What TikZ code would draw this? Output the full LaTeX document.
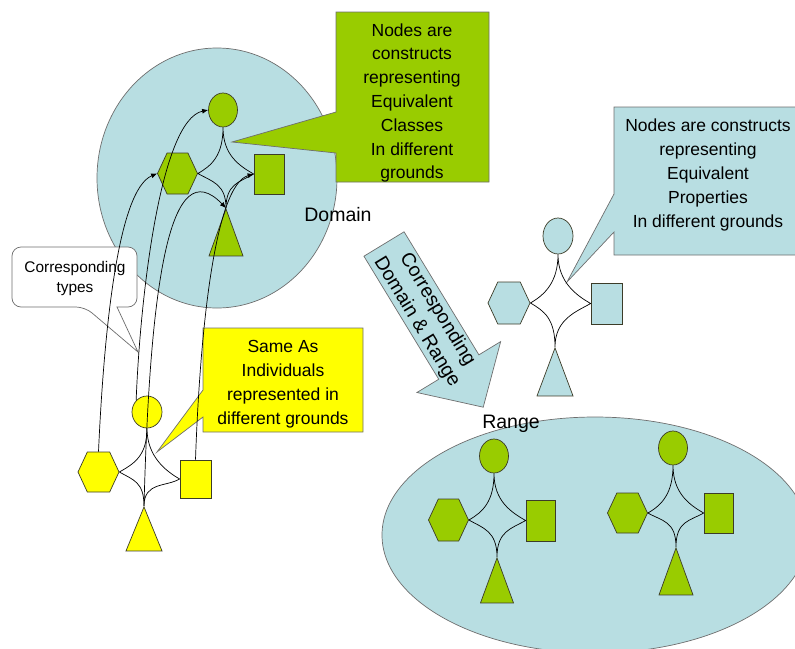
\documentclass[tikz,border=0pt]{standalone}
\usepackage{fontspec}
\setmainfont{Liberation Sans}
\usetikzlibrary{
    shapes.geometric,
    shapes.symbols,
    arrows.meta,
    positioning
}
\definecolor{paleblue}{RGB}{184,222,226}
\definecolor{leaf}{RGB}{153,204,0}
\definecolor{lemon}{RGB}{255,255,0}
\definecolor{rim}{RGB}{60,60,40}
\definecolor{edgegray}{RGB}{110,110,110}

\begin{document}
\begin{tikzpicture}[x=1pt, y=-1pt,
    circ/.style={ellipse, draw=rim, line width=0.7pt, inner sep=0pt, minimum width=29pt, minimum height=34pt},
    hexa/.style={signal, signal to=west and east, signal pointer angle=130, draw=rim, line width=0.7pt, inner sep=0pt, minimum width=40pt, minimum height=41pt},
    sq/.style={rectangle, draw=rim, line width=0.7pt, inner sep=0pt, minimum width=30pt, minimum height=40pt},
    tri/.style={isosceles triangle, isosceles triangle stretches, shape border rotate=90, draw=rim, line width=0.7pt, inner sep=0pt, anchor=apex, minimum width=34pt, minimum height=47pt},
    link/.style={line width=0.7pt},
    corr/.style={link, -{Latex[length=6pt, width=5pt]}},
    callout/.style={draw=edgegray, line width=0.7pt},
    say/.style={align=center, font=\fontsize{17.5}{23.8}\selectfont},
    tag/.style={font=\fontsize{19.5}{24}\selectfont}
]
\useasboundingbox (0,0) rectangle (795,648);

% domain and range areas
\draw[callout, fill=paleblue] (217,178) ellipse [x radius=120pt, y radius=130pt];
\draw[callout, fill=paleblue] (595,535) ellipse [x radius=213pt, y radius=118pt];

% call-outs
\draw[callout, fill=white, rounded corners=9pt] (117,307) -- (137,307) -- (137,247) -- (12,247) -- (12,307) -- (85,307) [sharp corners] -- (138,352) -- cycle;
\draw[callout, fill=leaf] (336,12) -- (489,12) -- (489,182) -- (336,182) -- (336,153) -- (232,142) -- (336,112) -- cycle;
\draw[callout, fill=paleblue] (614,107) -- (800,107) -- (800,255) -- (614,255) -- (614,232) -- (567,282) -- (614,194) -- cycle;
\draw[callout, fill=lemon] (203,328) -- (363,328) -- (363,432) -- (203,432) -- (203,417) -- (157,452) -- (203,390) -- cycle;

% big arrow
\begin{scope}[shift={(384,244)}, rotate=-58.7]
    \draw[callout, fill=paleblue] (0,-23.5) -- (144,-23.5) -- (144,-49) -- (191,0) -- (144,49) -- (144,23.5) -- (0,23.5) -- cycle;
\end{scope}

% domain classes
\begin{scope}[shift={(223,110)}]
    \node[circ, fill=leaf] (dCirc) at (0,0) {};
    \node[hexa, fill=leaf] (dHex) at (-45.5,63.5) {};
    \node[sq, fill=leaf] (dBox) at (46,64) {};
    \node[tri, fill=leaf] (dTri) at (3,98) {};
\end{scope}
\draw[link]
(dCirc.south) .. controls +(0,28) and +(14,-8) .. (dHex.east)
(dCirc.south) .. controls +(0,28) and +(-14,-8) .. (dBox.west)
(dHex.east) .. controls +(14,8) and +(0,-24) .. (dTri.apex)
(dBox.west) .. controls +(-14,8) and +(0,-24) .. (dTri.apex);

% individuals
\begin{scope}[shift={(147,412)}]
    \node[circ, fill=lemon, minimum width=30pt, minimum height=32pt] (yCirc) at (0,0) {};
    \node[hexa, fill=lemon, minimum width=41pt, minimum height=40pt] (yHex) at (-48.5,60) {};
    \node[sq, fill=lemon, minimum width=31pt, minimum height=38pt] (yBox) at (48.5,67) {};
    \node[tri, fill=lemon, minimum width=36pt, minimum height=44pt] (yTri) at (-3,94) {};
\end{scope}
\draw[link]
(yCirc.south) .. controls +(0,28) and +(14,-8) .. (yHex.east)
(yCirc.south) .. controls +(0,28) and +(-14,-8) .. (yBox.west)
(yHex.east) .. controls +(14,8) and +(0,-24) .. (yTri.apex)
(yBox.west) .. controls +(-14,8) and +(0,-24) .. (yTri.apex);

% properties
\begin{scope}[shift={(558,236)}]
    \node[circ, fill=paleblue, minimum width=30pt, minimum height=36pt] (pCirc) at (0,0) {};
    \node[hexa, fill=paleblue, minimum width=42pt, minimum height=42pt] (pHex) at (-49,67) {};
    \node[sq, fill=paleblue, minimum width=31pt, minimum height=41pt] (pBox) at (48.5,67.5) {};
    \node[tri, fill=paleblue, minimum width=36pt, minimum height=48pt] (pTri) at (-3,111) {};
\end{scope}
\draw[link]
(pCirc.south) .. controls +(0,28) and +(14,-8) .. (pHex.east)
(pCirc.south) .. controls +(0,28) and +(-14,-8) .. (pBox.west)
(pHex.east) .. controls +(14,8) and +(0,-28) .. (pTri.apex)
(pBox.west) .. controls +(-14,8) and +(0,-28) .. (pTri.apex);

% range classes, first
\begin{scope}[shift={(494,456)}]
    \node[circ, fill=leaf] (r1Circ) at (0,0) {};
    \node[hexa, fill=leaf, minimum height=42pt] (r1Hex) at (-45.5,64) {};
    \node[sq, fill=leaf, minimum width=29pt, minimum height=41pt] (r1Box) at (46.5,64.5) {};
    \node[tri, fill=leaf, minimum width=33pt, minimum height=45pt] (r1Tri) at (3,101) {};
\end{scope}
\draw[link]
(r1Circ.south) .. controls +(0,28) and +(14,-8) .. (r1Hex.east)
(r1Circ.south) .. controls +(0,28) and +(-14,-8) .. (r1Box.west)
(r1Hex.east) .. controls +(14,8) and +(0,-26) .. (r1Tri.apex)
(r1Box.west) .. controls +(-14,8) and +(0,-26) .. (r1Tri.apex);

% range classes, second
\begin{scope}[shift={(673,448)}]
    \node[circ, fill=leaf] (r2Circ) at (0,0) {};
    \node[hexa, fill=leaf, minimum height=40pt] (r2Hex) at (-45.5,65) {};
    \node[sq, fill=leaf, minimum width=29pt] (r2Box) at (45.5,65) {};
    \node[tri, fill=leaf] (r2Tri) at (3,99) {};
\end{scope}
\draw[link]
(r2Circ.south) .. controls +(0,28) and +(14,-8) .. (r2Hex.east)
(r2Circ.south) .. controls +(0,28) and +(-14,-8) .. (r2Box.west)
(r2Hex.east) .. controls +(14,8) and +(0,-26) .. (r2Tri.apex)
(r2Box.west) .. controls +(-14,8) and +(0,-26) .. (r2Tri.apex);

% individuals to their types
\draw[corr] (yHex.north) .. controls (104,330) and (118,190) .. (dHex.west);
\draw[corr] (yCirc.north west) .. controls (140,300) and (160,120) .. (dCirc.west);
\draw[corr] (yTri.apex) .. controls (150,280) and (170,150) .. (dTri.apex);
\draw[corr] (yBox.north) .. controls (200,330) and (215,185) .. (dBox.west);

% texts
\node[say] (classNote) at (412,103) {Nodes are\\constructs\\representing\\Equivalent\\Classes\\In different\\grounds};
\node[say] (propNote) at (708,175) {Nodes are constructs\\representing\\Equivalent\\Properties\\In different grounds};
\node[say] (sameNote) at (283,384) {Same As\\Individuals\\represented in\\different grounds};
\node[align=center, font=\fontsize{15.4}{20}\selectfont] (typeNote) at (75,279) {Corresponding\\types};
\node[tag] (domLabel) at (338,215) {Domain};
\node[tag] (rangeLabel) at (511,424) {Range};
\node[tag, align=center, rotate=-58.7] (arrowNote) at (427,316) {Corresponding\\Domain \& Range};
\end{tikzpicture}
\end{document}
